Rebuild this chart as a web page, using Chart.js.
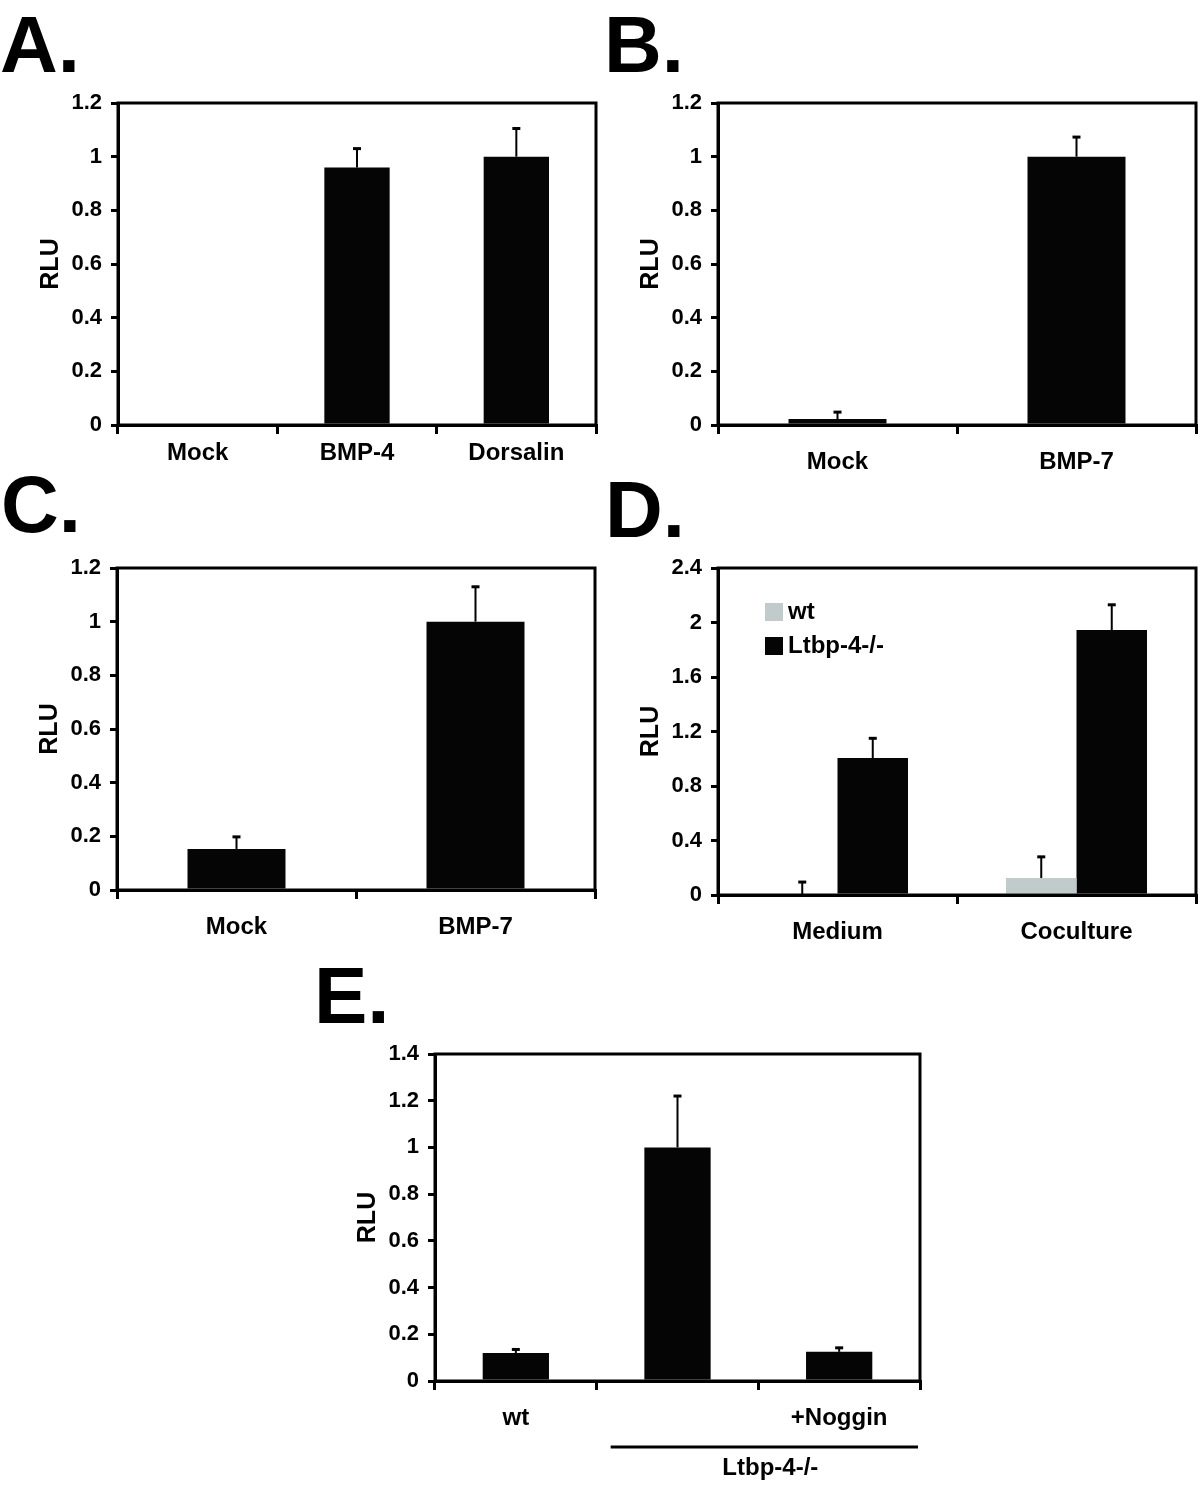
<!DOCTYPE html>
<html>
<head>
<meta charset="utf-8">
<script src="https://cdn.jsdelivr.net/npm/chart.js@4.4.0/dist/chart.umd.min.js"></script>
<style>
  body { margin: 0; background: #fff; }
  #page { position: relative; width: 1200px; height: 1486px; background: #fff; overflow: hidden;
          font-family: "Liberation Sans", Arial, sans-serif; }
  .letter { position: absolute; font-weight: bold; font-size: 80px; line-height: 1; color: #000; }
  canvas { position: absolute; }
</style>
</head>
<body>
<div id="page">
  <div class="letter" style="left:0px;top:5px">A.</div>
  <div class="letter" style="left:604px;top:5px">B.</div>
  <div class="letter" style="left:1px;top:465px">C.</div>
  <div class="letter" style="left:605px;top:470px">D.</div>
  <div class="letter" style="left:314px;top:956px">E.</div>
</div>
<script>
// ---- data ----
const catsA = ['Mock', 'BMP-4', 'Dorsalin'];
const valsA = [0, 0.96, 1.0];
const errsA = [0, 0.07, 0.105];

const catsB = ['Mock', 'BMP-7'];
const valsB = [0.022, 1.0];
const errsB = [0.026, 0.073];

const catsC = ['Mock', 'BMP-7'];
const valsC = [0.153, 1.0];
const errsC = [0.045, 0.13];

const catsD = ['Medium', 'Coculture'];
const seriesD = ['wt', 'Ltbp-4-/-'];
const valsDwt = [0, 0.125];
const errsDwt = [0.095, 0.155];
const valsDko = [1.005, 1.945];
const errsDko = [0.145, 0.185];

const catsE = ['wt', '', '+Noggin'];
const valsE = [0.12, 1.0, 0.125];
const errsE = [0.015, 0.22, 0.017];
const bracketE = 'Ltbp-4-/-';

const ticksA = [0, 1.2, 0.2];   // min, max, step
const ticksD = [0, 2.4, 0.4];
const ticksE = [0, 1.4, 0.2];

// ---- styling ----
const FONT = '"Liberation Sans", Arial, sans-serif';
const BLACK = '#050505';
const GREY = '#c2cbcb';
Chart.defaults.font.family = FONT;
Chart.defaults.color = '#000';

// canvas margins round the plot area (plot box is placed from these)
const PAD_L = 110, PAD_T = 30, PAD_R = 10;
const page = document.getElementById('page');

// error bars (upper only), drawn through the y scale
const errorBars = {
  id: 'errorBars',
  afterDatasetsDraw(chart) {
    const ctx = chart.ctx, y = chart.scales.y;
    chart.data.datasets.forEach((ds, i) => {
      chart.getDatasetMeta(i).data.forEach((bar, j) => {
        const e = ds.errUp[j];
        if (!e) return;
        const yb = y.getPixelForValue(ds.data[j]);
        const yt = y.getPixelForValue(ds.data[j] + e);
        ctx.save();
        ctx.strokeStyle = '#000';
        ctx.lineWidth = 2;
        ctx.beginPath();
        ctx.moveTo(bar.x, yb);
        ctx.lineTo(bar.x, yt);
        ctx.stroke();
        ctx.lineWidth = 3;
        ctx.beginPath();
        ctx.moveTo(bar.x - 4, yt);
        ctx.lineTo(bar.x + 4, yt);
        ctx.stroke();
        ctx.restore();
      });
    });
  }
};

// closed box round the plot area
const frame = {
  id: 'frame',
  afterDraw(chart) {
    const a = chart.chartArea, ctx = chart.ctx;
    ctx.save();
    ctx.strokeStyle = '#000';
    ctx.lineWidth = 3;
    ctx.strokeRect(a.left, a.top, a.right - a.left, a.bottom - a.top);
    ctx.restore();
  }
};

// legend inside the plot (panel D)
const innerLegend = {
  id: 'innerLegend',
  afterDraw(chart) {
    const a = chart.chartArea, ctx = chart.ctx;
    ctx.save();
    ctx.font = 'bold 24px ' + FONT;
    ctx.textBaseline = 'middle';
    chart.data.datasets.forEach((ds, i) => {
      const x = a.left + 47, y = a.top + 35 + i * 34;
      ctx.fillStyle = ds.backgroundColor;
      ctx.fillRect(x, y, 18, 18);
      ctx.fillStyle = '#000';
      ctx.fillText(ds.label, x + 23, y + 9);
    });
    ctx.restore();
  }
};

// group line + label under the last two categories (panel E)
const bracket = {
  id: 'bracket',
  afterDraw(chart) {
    const ctx = chart.ctx, x = chart.scales.x, a = chart.chartArea;
    const half = (x.getPixelForValue(1) - x.getPixelForValue(0)) / 2;
    const x0 = x.getPixelForValue(1) - half + 14;
    const x1 = a.right - 2;
    const y = a.bottom + 66;
    ctx.save();
    ctx.strokeStyle = '#000';
    ctx.lineWidth = 3;
    ctx.beginPath();
    ctx.moveTo(x0, y);
    ctx.lineTo(x1, y);
    ctx.stroke();
    ctx.font = 'bold 24px ' + FONT;
    ctx.fillStyle = '#000';
    ctx.textAlign = 'center';
    ctx.textBaseline = 'middle';
    ctx.fillText(bracketE, (x0 + x1) / 2 + 6, a.bottom + 87);
    ctx.restore();
  }
};

function panel(box, labels, datasets, ticks, extra) {
  const c = document.createElement('canvas');
  c.width = box.R - box.L + PAD_L + PAD_R;
  c.height = box.B - box.T + PAD_T + box.xh;
  c.style.left = (box.L - PAD_L) + 'px';
  c.style.top = (box.T - PAD_T) + 'px';
  page.appendChild(c);

  new Chart(c, {
    type: 'bar',
    data: { labels: labels, datasets: datasets },
    options: {
      responsive: false,
      animation: false,
      devicePixelRatio: 1,
      layout: { padding: { left: 0, top: PAD_T, right: PAD_R, bottom: 0 } },
      datasets: { bar: { categoryPercentage: box.cp, barPercentage: 1.0, borderWidth: 0 } },
      plugins: { legend: { display: false }, tooltip: { enabled: false } },
      scales: {
        x: {
          grid: { offset: true, drawOnChartArea: false, color: '#000', lineWidth: 3, tickLength: 9 },
          border: { color: '#000', width: 3 },
          ticks: { font: { size: 24, weight: 'bold' }, padding: box.lp, maxRotation: 0, autoSkip: false },
          afterFit: s => { s.height = box.xh; }
        },
        y: {
          min: ticks[0], max: ticks[1],
          ticks: {
            stepSize: ticks[2], padding: 9,
            font: { size: 22, weight: 'bold' },
            callback: v => String(Math.round(v * 10) / 10)
          },
          grid: { drawOnChartArea: false, color: '#000', lineWidth: 3, tickLength: 7 },
          border: { color: '#000', width: 3 },
          title: { display: true, text: 'RLU', font: { size: 25, weight: 'bold' }, padding: { top: 28, bottom: 0 } },
          afterFit: s => { s.width = PAD_L; }
        }
      }
    },
    plugins: [errorBars, frame].concat(extra || [])
  });
}

const single = (vals, errs) => [{ label: 'RLU', data: vals, errUp: errs, backgroundColor: BLACK }];

panel({ L: 118, R: 596, T: 103, B: 425, xh: 60, lp: 5, cp: 0.41 }, catsA, single(valsA, errsA), ticksA);
panel({ L: 718, R: 1196, T: 103, B: 425, xh: 60, lp: 14, cp: 0.41 }, catsB, single(valsB, errsB), ticksA);
panel({ L: 117, R: 595, T: 568, B: 890, xh: 60, lp: 14, cp: 0.41 }, catsC, single(valsC, errsC), ticksA);
panel({ L: 718, R: 1196, T: 568, B: 895, xh: 60, lp: 14, cp: 0.59 }, catsD, [
  { label: seriesD[0], data: valsDwt, errUp: errsDwt, backgroundColor: GREY },
  { label: seriesD[1], data: valsDko, errUp: errsDko, backgroundColor: BLACK }
], ticksD, [innerLegend]);
panel({ L: 435, R: 920, T: 1054, B: 1381, xh: 105, lp: 14, cp: 0.41 }, catsE, single(valsE, errsE), ticksE, [bracket]);
</script>
</body>
</html>
